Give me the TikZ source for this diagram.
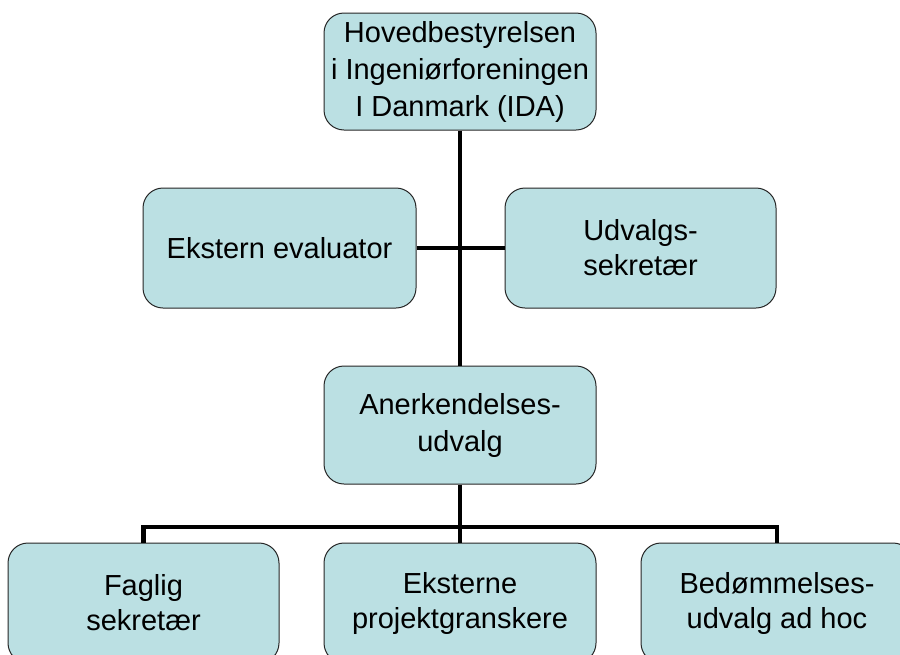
\documentclass[tikz,border=0pt]{standalone}
\usepackage{fontspec}
\setmainfont{Liberation Sans}
\definecolor{boxfill}{RGB}{187,224,227}
\begin{document}
\begin{tikzpicture}[x=1pt,y=-1pt,
  orgbox/.style={draw=black!85, line width=1pt, fill=boxfill, rounded corners=20pt,
    align=center, inner sep=0pt, font=\fontsize{29}{35}\selectfont},
  widebox/.style={orgbox, font=\fontsize{29}{37}\selectfont},
  link/.style={line width=4.2pt, black}]
\useasboundingbox (0,0) rectangle (900,654);
\clip (0,0) rectangle (900,654);
\node[widebox, minimum width=272pt, minimum height=117pt] (top) at (460,71.5)
  {Hovedbestyrelsen\\i Ingeniørforeningen\\I Danmark (IDA)};
\node[orgbox, minimum width=273pt, minimum height=120pt] (ekst) at (279.5,248)
  {Ekstern evaluator};
\node[orgbox, minimum width=271pt, minimum height=120pt] (udv) at (640.5,248)
  {Udvalgs-\\sekretær};
\node[widebox, minimum width=272pt, minimum height=118pt] (aner) at (460,425)
  {Anerkendelses-\\udvalg};
\node[orgbox, minimum width=271pt, minimum height=120pt] (fag) at (143.5,603)
  {Faglig\\sekretær};
\node[orgbox, minimum width=272pt, minimum height=120pt] (eks) at (460,603)
  {Eksterne\\projektgranskere};
\node[orgbox, minimum width=272pt, minimum height=120pt] (bed) at (777,603)
  {Bedømmelses-\\udvalg ad hoc};
\draw[link] (top.south) -- (aner.north);
\draw[link] (ekst.east) -- (udv.west);
\coordinate (bus) at (460,527);
\draw[link] (aner.south) -- (eks.north);
\draw[link] (fag.north) |- (bus) -| (bed.north);
\end{tikzpicture}
\end{document}
